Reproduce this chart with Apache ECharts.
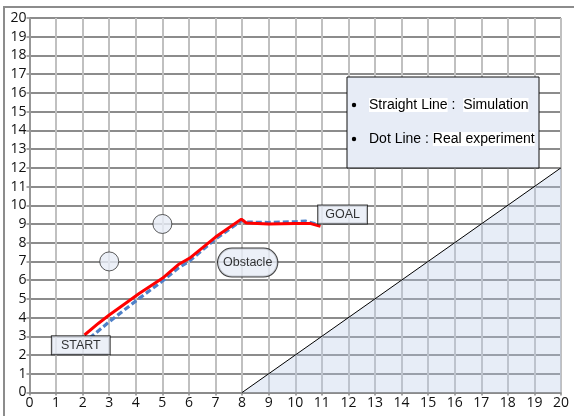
<!DOCTYPE html>
<html><head><meta charset="utf-8">
<script src="https://cdn.jsdelivr.net/npm/echarts@6/dist/echarts.min.js"></script>
<style>html,body{margin:0;padding:0;background:#fff}#c{width:574px;height:416px}</style>
</head><body><div id="c"></div>
<script>
// Data
const simulation = [[2.07,3.07],[2.6,3.7],[3.0,4.14],[3.5,4.65],[4.14,5.3],[5.0,6.1],[5.59,6.82],[6.03,7.18],[7.0,8.3],[7.97,9.26],[8.16,9.05],[9.0,9.0],[10.0,9.02],[10.55,9.03],[10.95,8.87]];
const experiment = [[2.26,2.9],[3.01,3.79],[4.14,5.04],[5.0,5.95],[5.59,6.64],[6.0,7.0],[7.0,8.2],[8.0,9.2],[8.2,9.1],[9.0,9.08],[10.0,9.12],[10.4,9.15],[10.9,8.95]];
const obstacleRegion = [[8,0],[20,12]];
const circles = [[3,7],[5,9]];
const annotationNames = ['START','GOAL','Obstacle'];
const annotationPos = [[1.93,2.52],[11.78,9.5],[8.21,6.94]];
const xTicks = {min:0, max:20, interval:1};
const yTicks = {min:0, max:20, interval:1};

const chart = echarts.init(document.getElementById('c'), null, {renderer:'canvas'});
const fill = '#e7ecf6';
const font14 = '14px "Liberation Sans", Arial';
const labelStyles = [
  {padding:[3,9,2,9], borderRadius:0},
  {padding:[3,7,2,7], borderRadius:0},
  {padding:[8,5,7,5], borderRadius:14}
];
chart.setOption({
  animation:false,
  backgroundColor:'#fff',
  grid:{left:29.5, right:13, top:18, bottom:23.5, containLabel:false},
  xAxis:{type:'value', min:xTicks.min, max:xTicks.max, interval:xTicks.interval,
    axisLine:{show:true, onZero:false, lineStyle:{color:'#8a8a8a', width:1.5}},
    axisTick:{show:true, length:3, lineStyle:{color:'#8a8a8a', width:1.5}},
    axisLabel:{margin:4, color:'#111', fontFamily:'Open Sans', fontSize:14},
    splitLine:{show:true, lineStyle:{color:'#c0c0c0', width:2}}},
  yAxis:{type:'value', min:yTicks.min, max:yTicks.max, interval:yTicks.interval,
    axisLine:{show:true, onZero:false, lineStyle:{color:'#8a8a8a', width:1.5}},
    axisTick:{show:true, length:3, lineStyle:{color:'#8a8a8a', width:1.5}},
    axisLabel:{margin:3, color:'#111', fontFamily:'Open Sans', fontSize:14},
    splitLine:{show:true, lineStyle:{color:'#8c8c8c', width:2}}},
  graphic:[
    {type:'rect', shape:{x:4, y:7, width:600, height:500}, style:{fill:'none', stroke:'#8c8c8c', lineWidth:2}, z:100},
    {type:'rect', z:100, shape:{x:347,y:77,width:192,height:91}, style:{fill:fill, stroke:'#111', lineWidth:1}},
    {type:'circle', z:101, shape:{cx:354, cy:105, r:2.2}, style:{fill:'#000'}},
    {type:'circle', z:101, shape:{cx:354, cy:139, r:2.2}, style:{fill:'#000'}},
    {type:'text', z:101, x:369, y:105, style:{text:'{w|Straight Line} :  {w|Simulation}', verticalAlign:'middle', font:font14, fill:'#000',
        rich:{w:{backgroundColor:'#fff', font:font14, fill:'#000'}}}},
    {type:'text', z:101, x:369, y:139, style:{text:'Dot Line : {w|Real experiment}', verticalAlign:'middle', font:font14, fill:'#000',
        rich:{w:{backgroundColor:'#fff', font:font14, fill:'#000'}}}}
  ],
  series:[
    {type:'line', data:obstacleRegion, symbol:'none', silent:true,
      lineStyle:{color:'#000', width:1}, areaStyle:{color:'#b7c8e8', opacity:0.33}, z:1},
    {type:'scatter', data:circles, symbol:'circle', symbolSize:19,
      itemStyle:{color:fill, borderColor:'#333', borderWidth:1}, z:3},
    {type:'line', data:experiment, symbol:'none',
      lineStyle:{color:'#4f81c8', width:3.2, type:[6,3]}, z:4},
    {type:'line', data:simulation, symbol:'none',
      lineStyle:{color:'#f00', width:3}, z:5},
    {type:'scatter', symbolSize:0, z:10, itemStyle:{color:'transparent'},
      data:annotationNames.map((n,i)=>({name:n, value:annotationPos[i], label:labelStyles[i]})),
      label:{show:true, position:'inside', formatter:p=>p.name,
        fontFamily:'Liberation Sans, Arial', fontSize:12.5, color:'#000',
        backgroundColor:fill, borderColor:'#111', borderWidth:1}}
  ]
});
</script></body></html>
